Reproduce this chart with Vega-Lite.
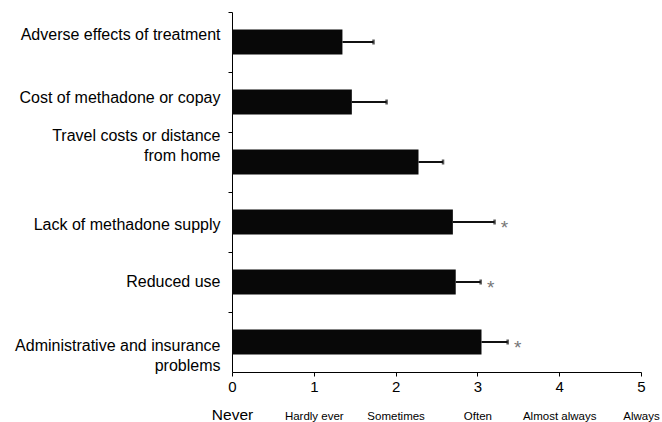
{
  "$schema": "https://vega.github.io/schema/vega-lite/v6.json",
  "autosize": "none",
  "padding": {"left": 232, "top": 12, "right": 21, "bottom": 50},
  "width": 409,
  "height": 360,
  "background": "white",
  "config": {
    "view": {"stroke": null},
    "axis": {"labelFont": "Liberation Sans", "labelColor": "black", "domainColor": "black", "tickColor": "black", "grid": false}
  },
  "data": {
    "values": [
      {"category": "Adverse effects of treatment", "mean": 1.35, "upper": 1.73, "sig": ""},
      {"category": "Cost of methadone or copay", "mean": 1.465, "upper": 1.89, "sig": ""},
      {"category": "Travel costs or distance from home", "mean": 2.28, "upper": 2.58, "sig": ""},
      {"category": "Lack of methadone supply", "mean": 2.7, "upper": 3.21, "sig": "*"},
      {"category": "Reduced use", "mean": 2.735, "upper": 3.04, "sig": "*"},
      {"category": "Administrative and insurance problems", "mean": 3.05, "upper": 3.37, "sig": "*"}
    ]
  },
  "encoding": {
    "y": {
      "field": "category",
      "type": "nominal",
      "sort": null,
      "scale": {"paddingInner": 0.58, "paddingOuter": 0.29},
      "axis": {
        "title": null,
        "tickOffset": -30,
        "tickExtra": true,
        "tickSize": 4,
        "labelFontSize": 16,
        "labelLimit": 300,
        "labelPadding": 8,
        "labelLineHeight": 20,
        "labelOffset": {
          "condition": [
            {"test": "datum.value == 'Adverse effects of treatment'", "value": 22},
            {"test": "datum.value == 'Cost of methadone or copay'", "value": 25},
            {"test": "datum.value == 'Travel costs or distance from home'", "value": 3},
            {"test": "datum.value == 'Lack of methadone supply'", "value": 32},
            {"test": "datum.value == 'Administrative and insurance problems'", "value": 33}
          ],
          "value": 29
        },
        "labelExpr": "datum.label == 'Travel costs or distance from home' ? ['Travel costs or distance', 'from home'] : datum.label == 'Administrative and insurance problems' ? ['Administrative and insurance ', 'problems'] : datum.label"
      }
    }
  },
  "layer": [
    {
      "mark": {"type": "bar", "color": "#080808"},
      "encoding": {
        "x": {
          "field": "mean",
          "type": "quantitative",
          "scale": {"domain": [0, 5], "nice": false},
          "axis": {"orient": "bottom", "title": null, "values": [0, 1, 2, 3, 4, 5], "tickSize": 4, "labelFontSize": 15, "labelPadding": 3, "labelFlush": false}
        }
      }
    },
    {
      "mark": {"type": "rule", "color": "#111111", "strokeWidth": 2},
      "encoding": {
        "x": {
          "field": "mean",
          "type": "quantitative",
          "axis": {
            "orient": "bottom",
            "title": null,
            "values": [0, 1, 2, 3, 4, 5],
            "domain": false,
            "ticks": false,
            "offset": 47,
            "labelPadding": 0,
            "labelBaseline": "alphabetic",
            "labelFlush": false,
            "labelFontSize": {"condition": {"test": "datum.value == 0", "value": 15.5}, "value": 11.5},
            "labelExpr": "['Never', 'Hardly ever', 'Sometimes', 'Often', 'Almost always', 'Always'][datum.value]"
          }
        },
        "x2": {"field": "upper"}
      }
    },
    {
      "mark": {"type": "tick", "color": "#111111", "size": 5, "thickness": 2.5},
      "encoding": {
        "x": {"field": "upper", "type": "quantitative", "axis": null}
      }
    },
    {
      "mark": {"type": "text", "color": "#777777", "fontSize": 19, "font": "Liberation Sans", "dx": 10, "dy": 6, "align": "center", "baseline": "middle"},
      "encoding": {
        "x": {"field": "upper", "type": "quantitative", "axis": null},
        "text": {"field": "sig"}
      }
    }
  ],
  "resolve": {"axis": {"x": "independent"}}
}
